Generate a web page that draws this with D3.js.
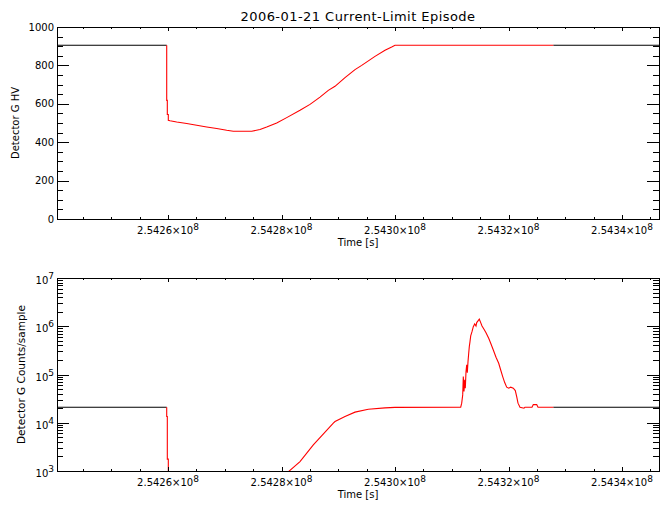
<!DOCTYPE html>
<html>
<head>
<meta charset="utf-8">
<script src="https://cdn.jsdelivr.net/npm/d3@7"></script>
<style>
  html, body { margin: 0; padding: 0; background: #fff; }
  svg { display: block; }
  text { font-family: "DejaVu Sans", sans-serif; fill: #000; }
</style>
</head>
<body>
<svg id="chart" width="670" height="511"></svg>
<script>
// ---------------- DATA ----------------
const title = "2006-01-21 Current-Limit Episode";
const xLabel = "Time [s]";
const hvLabel = "Detector G HV";
const cntLabel = "Detector G Counts/sample";

const timeDomain = [254240440, 254346514];
const episodeStart = 254259771;
const episodeEnd = 254327889;

const xMajorTicks = [254260000, 254280000, 254300000, 254320000, 254340000];
const xMajorLabels = ["2.5426", "2.5428", "2.5430", "2.5432", "2.5434"];
const xMinorStep = 5000;

const hvTicks = [0, 200, 400, 600, 800, 1000];
const hvTickLabels = ["0", "200", "400", "600", "800", "1000"];
const hvMinorStep = 50;

const cntTicks = [1e3, 1e4, 1e5, 1e6, 1e7];
const cntTickExps = ["3", "4", "5", "6", "7"];

// Detector G high voltage
const hvTime = [
  254240440, 254259771, 254259771, 254259877, 254259877, 254260053, 254260053,
  254260352, 254261533, 254263295, 254265057, 254266819, 254268581, 254270343,
  254271506, 254274748, 254276210, 254277391, 254279153, 254280915, 254283258,
  254285020, 254286782, 254288245, 254289425, 254291187, 254292949, 254294129,
  254296473, 254298235, 254299415, 254299997, 254327889, 254346514
];
const hvValue = [
  905, 905, 618, 618, 544, 544, 514,
  512, 505, 497, 488, 479, 471, 462,
  457, 457, 466, 479, 500, 528, 566,
  597, 635, 670, 691, 736, 778, 800,
  847, 879, 896, 905, 905, 905
];

// Detector G counts per sample
const cntTime = [
  254240440, 254250000, 254259700, 254259771, 254259771, 254259877, 254259877,
  254260053, 254260053, 254281144, 254283258, 254285602, 254289126, 254289425,
  254291187, 254292949, 254295293, 254298235, 254299997, 254311574, 254311750,
  254311926, 254312032, 254312155, 254312279, 254312384, 254312508, 254312631,
  254312737, 254312860, 254312983, 254313089, 254313212, 254313336, 254313565,
  254313794, 254314041, 254314270, 254314393, 254314622, 254314851, 254315098,
  254315327, 254315679, 254316032, 254316507, 254316860, 254317318, 254317794,
  254318269, 254318621, 254318974, 254319326, 254319678, 254320031, 254320383,
  254320841, 254321193, 254321440, 254321670, 254322022, 254322727, 254322903,
  254324137, 254324366, 254324965, 254325195, 254327889, 254346514
];
const cntValue = [
  21000, 21000, 21000, 21000, 13500, 13500, 1760,
  1760, 500, 950, 1570, 3480, 9800, 10600,
  13400, 16600, 19100, 20300, 20800, 21000, 25500,
  37800, 90600, 44300, 77300, 52000, 115000, 158000,
  109000, 185000, 276000, 378000, 480000, 630000, 773000,
  982000, 1120000, 1010000, 1190000, 1290000, 1400000, 1190000,
  1010000, 867000, 736000, 565000, 445000, 323000, 228000,
  171000, 124000, 90600, 68000, 54600, 52000, 54600,
  52000, 46500, 34900, 25500, 21000, 20000, 21000,
  21000, 23800, 23800, 21000, 21000, 21000
];

// ---------------- LAYOUT ----------------
const svg = d3.select("#chart");
const L = 57, R = 659;
const panels = [
  { top: 27, bottom: 219 },
  { top: 278, bottom: 471 }
];

const x = d3.scaleLinear().domain(timeDomain).range([L, R]);
const yHV = d3.scaleLinear().domain([0, 1000]).range([panels[0].bottom, panels[0].top]);
const yCnt = d3.scaleLog().domain([1e3, 1e7]).range([panels[1].bottom, panels[1].top]);

svg.append("text")
  .attr("x", (L + R) / 2).attr("y", 21)
  .attr("text-anchor", "middle")
  .attr("font-size", 13).attr("letter-spacing", 0.45)
  .text(title);

const defs = svg.append("defs");
panels.forEach((p, i) => {
  defs.append("clipPath").attr("id", "clip" + i)
    .append("rect").attr("x", L).attr("y", p.top).attr("width", R - L).attr("height", p.bottom - p.top);
});

function zip(ts, vs) { return ts.map((t, i) => ({ t, v: vs[i] })); }
function segments(pts) {
  const pre = pts.filter(d => d.t <= episodeStart);
  const ep = pts.filter(d => d.t >= episodeStart && d.t <= episodeEnd);
  const post = pts.filter(d => d.t >= episodeEnd);
  const preCut = [];
  for (const d of pre) { preCut.push(d); if (d.t === episodeStart) break; }
  return { pre: preCut, ep, post };
}

function drawSeries(pts, yScale, clipId) {
  const line = d3.line().x(d => x(d.t)).y(d => yScale(d.v));
  const s = segments(pts);
  const g = svg.append("g").attr("clip-path", `url(#${clipId})`);
  g.append("path").attr("d", line(s.pre)).attr("fill", "none").attr("stroke", "#000").attr("stroke-width", 1.1);
  g.append("path").attr("d", line(s.post)).attr("fill", "none").attr("stroke", "#000").attr("stroke-width", 1.1);
  g.append("path").attr("d", line(s.ep)).attr("fill", "none").attr("stroke", "#ff0000").attr("stroke-width", 1.1);
}

drawSeries(zip(hvTime, hvValue), yHV, "clip0");
drawSeries(zip(cntTime, cntValue), yCnt, "clip1");

// ---------------- AXES ----------------
function tickLine(g, x1, y1, x2, y2) {
  g.append("line").attr("x1", x1).attr("y1", y1).attr("x2", x2).attr("y2", y2)
    .attr("stroke", "#000").attr("stroke-width", 1).attr("shape-rendering", "crispEdges");
}

panels.forEach((p, i) => {
  const g = svg.append("g");
  g.append("rect").attr("x", L).attr("y", p.top).attr("width", R - L).attr("height", p.bottom - p.top)
    .attr("fill", "none").attr("stroke", "#000").attr("stroke-width", 1).attr("shape-rendering", "crispEdges");

  const minor = d3.range(Math.ceil(timeDomain[0] / xMinorStep) * xMinorStep, timeDomain[1], xMinorStep);
  minor.forEach(t => {
    const isMajor = xMajorTicks.includes(t);
    const len = isMajor ? 4 : 2;
    const px = Math.round(x(t));
    tickLine(g, px, p.bottom, px, p.bottom - len);
    tickLine(g, px, p.top, px, p.top + len);
  });
  xMajorTicks.forEach((t, k) => {
    const tx = g.append("text").attr("x", x(t)).attr("y", p.bottom + 15)
      .attr("text-anchor", "middle").attr("font-size", 10);
    tx.append("tspan").text(xMajorLabels[k] + "×10");
    tx.append("tspan").attr("dy", -4.5).attr("font-size", 9).text("8");
  });
  g.append("text").attr("x", (L + R) / 2).attr("y", p.bottom + 27)
    .attr("text-anchor", "middle").attr("font-size", 10).text(xLabel);
});

// HV y-axis
{
  const g = svg.append("g");
  const p = panels[0];
  d3.range(0, 1000 + 1, hvMinorStep).forEach(v => {
    const isMajor = hvTicks.includes(v);
    const len = isMajor ? 12 : 6;
    const py = Math.round(yHV(v));
    tickLine(g, L, py, L + len, py);
    tickLine(g, R, py, R - len, py);
  });
  hvTicks.forEach((v, k) => {
    g.append("text").attr("x", 54).attr("y", yHV(v) + 3.5)
      .attr("text-anchor", "end").attr("font-size", 10).text(hvTickLabels[k]);
  });
  g.append("text")
    .attr("transform", `translate(18.5,${(p.top + p.bottom) / 2}) rotate(-90)`)
    .attr("text-anchor", "middle").attr("font-size", 10).text(hvLabel);
}

// Counts y-axis (log)
{
  const g = svg.append("g");
  const p = panels[1];
  cntTicks.forEach((dec, k) => {
    const py = Math.round(yCnt(dec));
    tickLine(g, L, py, L + 12, py);
    tickLine(g, R, py, R - 12, py);
    if (k < cntTicks.length - 1) {
      for (let m = 2; m <= 9; m++) {
        const my = Math.round(yCnt(dec * m));
        tickLine(g, L, my, L + 6, my);
        tickLine(g, R, my, R - 6, my);
      }
    }
    const tx = g.append("text").attr("x", 54).attr("y", yCnt(dec) + 6)
      .attr("text-anchor", "end").attr("font-size", 10);
    tx.append("tspan").text("10");
    tx.append("tspan").attr("dy", -5).attr("font-size", 9).text(cntTickExps[k]);
  });
  g.append("text")
    .attr("transform", `translate(25,${(p.top + p.bottom) / 2}) rotate(-90)`)
    .attr("text-anchor", "middle").attr("font-size", 10.5).text(cntLabel);
}
</script>
</body>
</html>
